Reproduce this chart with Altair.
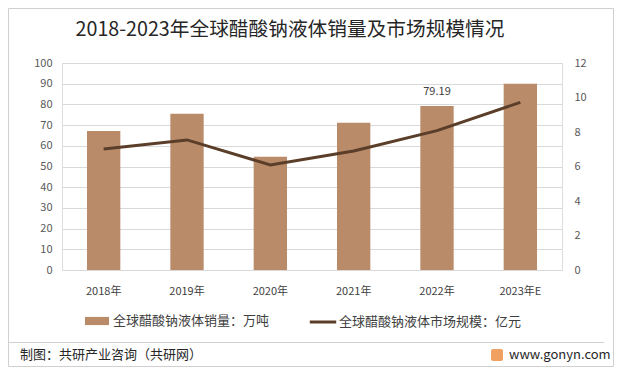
import altair as alt
import pandas as pd

years = ["2018年", "2019年", "2020年", "2021年", "2022年", "2023年E"]
sales = [67.2, 75.5, 54.7, 71.1, 79.19, 90.0]
market = [7.01, 7.54, 6.09, 6.9, 8.08, 9.72]
label_year = "2022年"

bar_name = "全球醋酸钠液体销量：万吨"
line_name = "全球醋酸钠液体市场规模：亿元"
title_text = "2018-2023年全球醋酸钠液体销量及市场规模情况"
source_text = "制图：共研产业咨询（共研网）"
site_text = "www.gonyn.com"

BAR = "#B98B69"
LINE = "#5B3E29"
FONT = "Noto Sans CJK SC"
TXT = "#404040"

df = pd.DataFrame({"year": years, "sales": sales, "market": market})

x_enc = alt.X(
    "year:N", sort=years,
    scale=alt.Scale(paddingInner=0.6, paddingOuter=0.3),
    axis=alt.Axis(title=None, labelAngle=0, ticks=False, domain=False,
                  labelPadding=15, labelFontSize=11, labelColor="#404040",
                  labelFont=FONT),
)

base = alt.Chart(df)

bars = base.transform_calculate(s=f"'{bar_name}'").mark_bar(color=BAR).encode(
    x=x_enc,
    y=alt.Y("sales:Q", scale=alt.Scale(domain=[0, 100], nice=False),
            axis=alt.Axis(title=None, values=list(range(0, 101, 10)), ticks=False,
                          domain=False, grid=True, gridColor="#D9D9D9",
                          labelPadding=10, labelFontSize=11, labelColor="#595959",
                          labelFont=FONT)),
    color=alt.Color("s:N", scale=alt.Scale(domain=[bar_name], range=[BAR]),
                    legend=alt.Legend(title=None, orient="none", legendX=22, legendY=245,
                                      symbolType="M-1,-0.34L1,-0.34L1,0.34L-1,0.34Z",
                                      symbolSize=576, labelFontSize=13, labelFont=FONT,
                                      labelColor=TXT, labelOffset=3, labelLimit=0)),
)

line = base.transform_calculate(l=f"'{line_name}'").mark_line(color=LINE, strokeWidth=3).encode(
    x=x_enc,
    y=alt.Y("market:Q", scale=alt.Scale(domain=[0, 12], nice=False),
            axis=alt.Axis(title=None, orient="right", values=list(range(0, 13, 2)),
                          ticks=False, domain=False, grid=False, labelPadding=12,
                          labelFontSize=11, labelColor="#595959", labelFont=FONT)),
    stroke=alt.Stroke("l:N", scale=alt.Scale(domain=[line_name], range=[LINE]),
                      legend=alt.Legend(title=None, orient="none", legendX=246, legendY=244,
                                        symbolType="stroke", symbolSize=700,
                                        symbolStrokeWidth=3, labelFontSize=13,
                                        labelFont=FONT, labelColor=TXT, labelOffset=1,
                                        labelLimit=0)),
)

label = base.transform_filter(alt.datum.year == label_year).mark_text(
    dy=-14, fontSize=11, font=FONT, color=TXT
).encode(
    x=x_enc,
    y=alt.Y("sales:Q", scale=alt.Scale(domain=[0, 100], nice=False), axis=None),
    text=alt.Text("sales:Q", format=".2f"),
)

one = alt.Data(values=[{"a": 1}])

title = alt.Chart(one).mark_text(text=title_text, fontSize=19.7, font=FONT, color="#262626",
                                  align="center", baseline="middle").encode(
    x=alt.value(228), y=alt.value(-33))

frame = alt.Chart(one).mark_rect(fill=None, stroke="#D0D0D0", strokeWidth=1).encode(
    x=alt.value(-53.5), x2=alt.value(551.5), y=alt.value(-54.5), y2=alt.value(303.5))

sep = alt.Chart(one).mark_rule(color="#D0D0D0", strokeWidth=1).encode(
    x=alt.value(-54), x2=alt.value(542), y=alt.value(279.5))

source = alt.Chart(one).mark_text(text=source_text, fontSize=13, font=FONT, color="#262626",
                                   align="left", baseline="middle").encode(
    x=alt.value(-42), y=alt.value(292))

site = alt.Chart(one).mark_text(text=site_text, fontSize=13, font=FONT, color="#262626",
                                 align="left", baseline="middle").encode(
    x=alt.value(447), y=alt.value(292))

logo = alt.Chart(one).mark_rect(fill="#F0A060", cornerRadius=2).encode(
    x=alt.value(429), x2=alt.value(441), y=alt.value(286), y2=alt.value(298))

chart = alt.layer(frame, bars, line, label, title, sep, source, site, logo).resolve_scale(
    y="independent", color="independent", stroke="independent"
).properties(
    width=500, height=207,
    autosize=alt.AutoSizeParams(type="none"),
    padding={"left": 54, "top": 55, "right": 52, "bottom": 97},
).configure_view(stroke=None).configure(background="white")

chart.save("out.html", embed_options={"renderer": "svg", "actions": False})
